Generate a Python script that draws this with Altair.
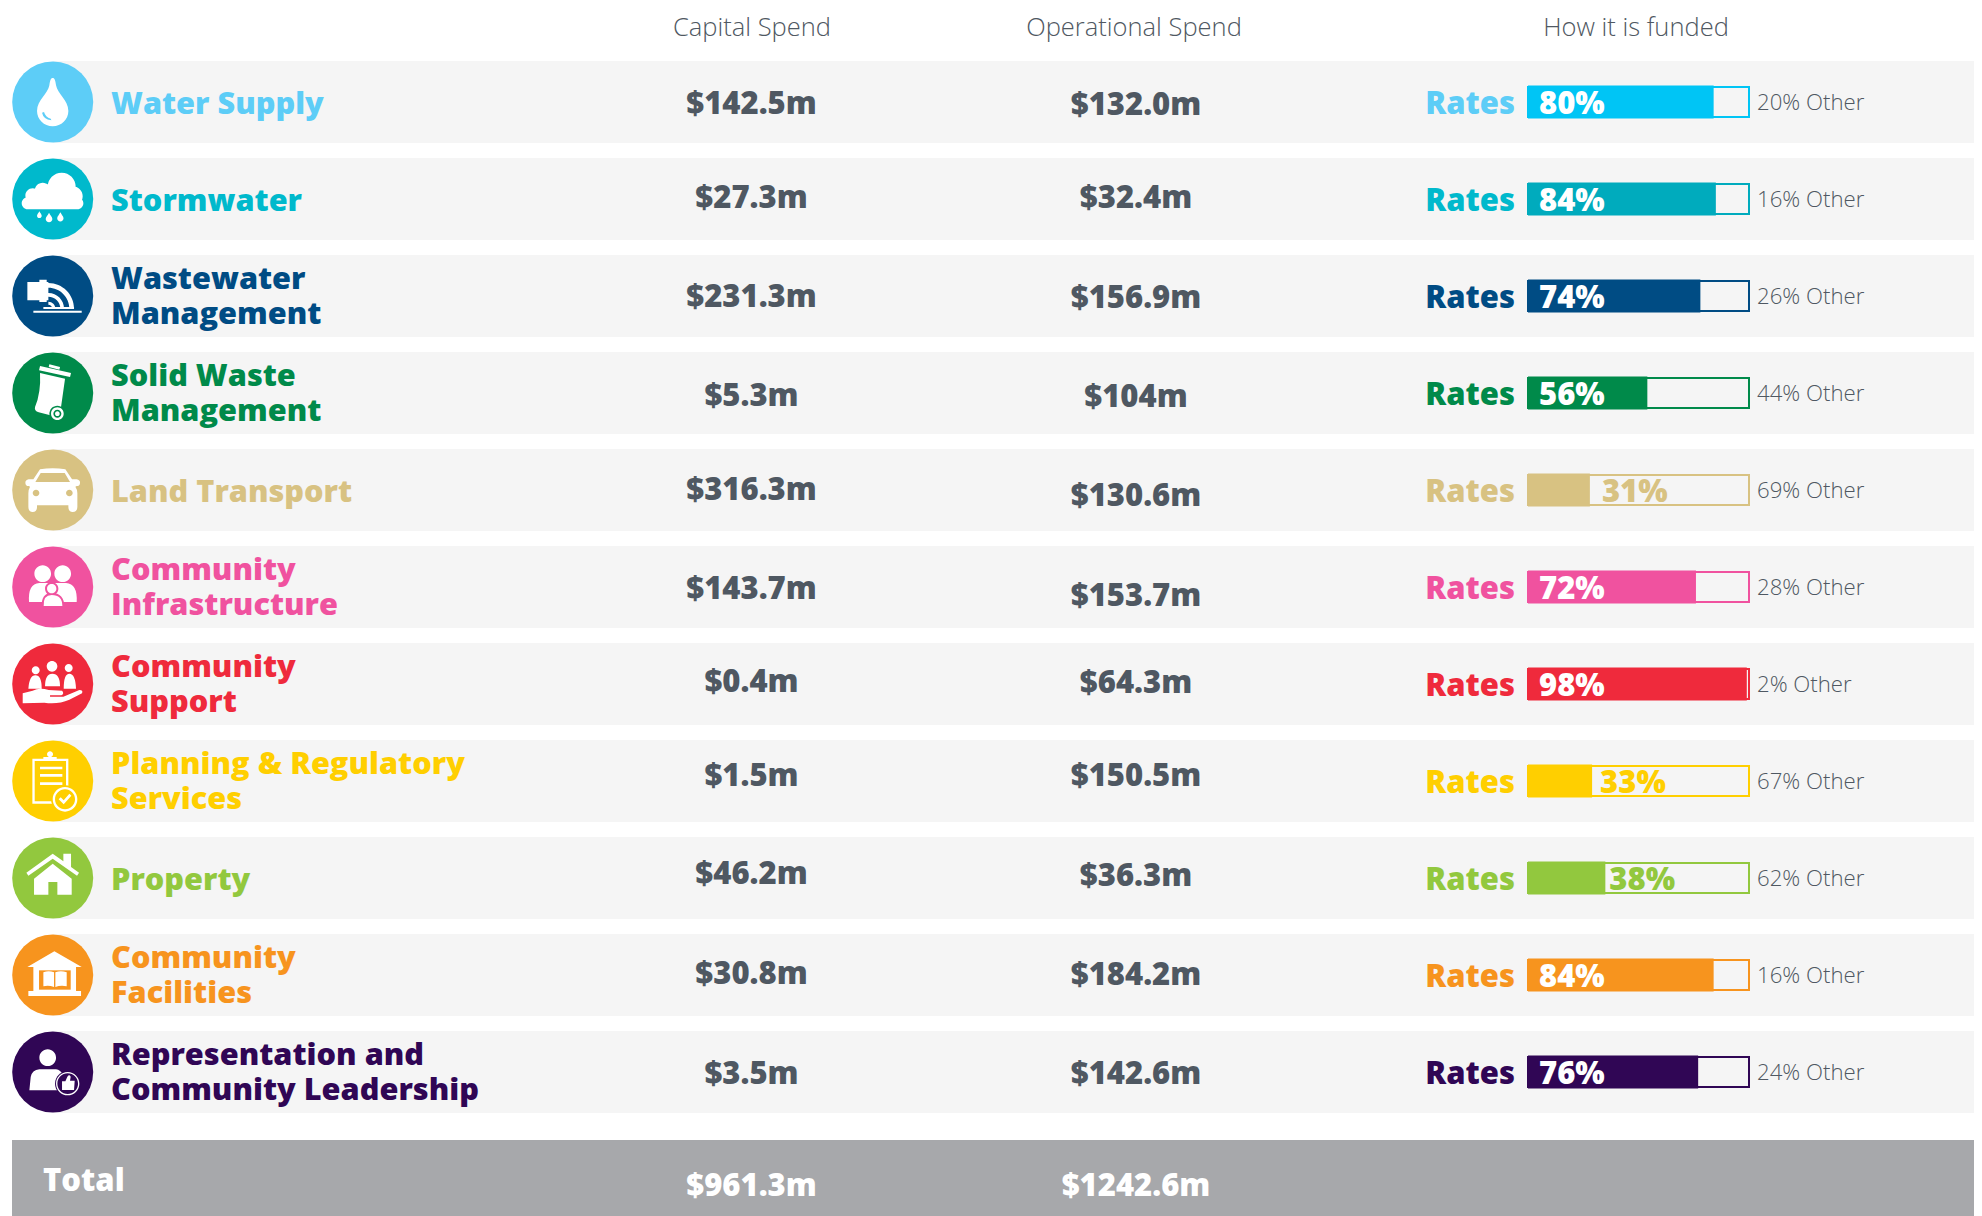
import altair as alt
import pandas as pd

# ---- values ----
names = ["Water Supply", "Stormwater", "Wastewater\nManagement", "Solid Waste\nManagement",
         "Land Transport", "Community\nInfrastructure", "Community\nSupport",
         "Planning & Regulatory\nServices", "Property", "Community\nFacilities",
         "Representation and\nCommunity Leadership"]
capital = ["$142.5m", "$27.3m", "$231.3m", "$5.3m", "$316.3m", "$143.7m", "$0.4m", "$1.5m", "$46.2m", "$30.8m", "$3.5m"]
operational = ["$132.0m", "$32.4m", "$156.9m", "$104m", "$130.6m", "$153.7m", "$64.3m", "$150.5m", "$36.3m", "$184.2m", "$142.6m"]
rates_pct = [80, 84, 74, 56, 31, 72, 98, 33, 38, 84, 76]
other_pct = [20, 16, 26, 44, 69, 28, 2, 67, 62, 16, 24]
bar_length = [84, 85, 78, 54, 28, 76, 99, 29, 35, 84, 77]   # as drawn in the picture, which differs from the labels
headers = ["Capital Spend", "Operational Spend", "How it is funded"]
total_label = "Total"
total_capital = "$961.3m"
total_operational = "$1242.6m"

# ---- styles ----
TEXT_COLORS = ["#5DCDF7", "#00B9CC", "#004C84", "#008A4A", "#D8C282", "#F0529F", "#EF2A3C", "#FFCF00", "#92C83E", "#F7941E", "#300655"]
BAR_COLORS = ["#00C5F5", "#00ABBD", "#004C84", "#008A4A", "#D8C282", "#F0529F", "#EF2A3C", "#FFCF00", "#92C83E", "#F7941E", "#300655"]
GREY = "#4F5862"
FONT = "Open Sans"
W, H = 1966, 1208
Y_SCALE = alt.Scale(domain=[0, 10], range=[94, 1064], nice=False, zero=False)
X_SCALE = alt.Scale(domain=[0, 100], range=[1520, 1741], nice=False, zero=False)
COLOR_SCALE = alt.Scale(domain=names, range=TEXT_COLORS)
BAR_SCALE = alt.Scale(domain=names, range=BAR_COLORS)
color_enc = alt.Color("name:N", scale=COLOR_SCALE, legend=None)
y_enc = alt.Y("row:Q", scale=Y_SCALE, axis=None)

df = pd.DataFrame({
    "row": range(len(names)), "name": names, "capital": capital, "operational": operational,
    "pct": rates_pct, "other": other_pct, "bar": bar_length, "start": 0, "full": 100,
    "y0": [i - 0.4227 for i in range(len(names))], "y1": [i + 0.4227 for i in range(len(names))],
})
df["pct_label"] = df["pct"].astype(str) + "%"
df["other_label"] = df["other"].astype(str) + "% Other"
df["rates"] = "Rates"


# ---- icon glyphs, in 3x-pixel units around the circle centre ----
def circ(cx, cy, r, rev=False):
    s = 0 if rev else 1
    return f"M{cx-r} {cy}A{r} {r} 0 1 {s} {cx+r} {cy}A{r} {r} 0 1 {s} {cx-r} {cy}Z"


def box(x0, y0, x1, y1, rev=False):
    if rev:
        return f"M{x0} {y0}L{x0} {y1}L{x1} {y1}L{x1} {y0}Z"
    return f"M{x0} {y0}L{x1} {y0}L{x1} {y1}L{x0} {y1}Z"


def ring(cx, cy, r1, r2):
    return f"M{cx} {cy-r2}A{r2} {r2} 0 0 1 {cx+r2} {cy}L{cx+r1} {cy}A{r1} {r1} 0 0 0 {cx} {cy-r1}Z"


def drop(cx, cy, r):
    return f"M{cx} {cy-1.9*r}C{cx+0.3*r} {cy-1.2*r} {cx+r} {cy-0.6*r} {cx+r} {cy}A{r} {r} 0 0 1 {cx-r} {cy}C{cx-r} {cy-0.6*r} {cx-0.3*r} {cy-1.2*r} {cx} {cy-1.9*r}Z"


ICONS = [
    # Water
    [("w", "M0 -72C6 -72 8 -64 10 -50C14 -25 47 -5 47 27A47 46 0 0 1 -47 27C-47 -5 -14 -25 -10 -50C-8 -64 -6 -72 0 -72Z"),
     ("c", "M-26 30Q-22 46 -6 50L-4 55Q-28 52 -32 32Z")],
    # Storm
    [("w", circ(27, -37, 42) + circ(-30, -25, 24) + circ(-60, -10, 22) + circ(60, -8, 30) + box(-50, -30, 50, 5) +
      "M-75 -5L74 -5A18 18 0 0 1 74 31L-75 31A18 18 0 0 1 -75 -5Z" + drop(-40, 50, 7) + drop(-11, 60, 10) + drop(23, 58, 9.5))],
    # Wastewater
    [("w", box(-76, -42, -13, 13) + box(-40, -49, -18, 18) + ring(-13, 38, 63, 77) + ring(-13, 38, 36, 47) + ring(-13, 38, 12, 21)
      + box(-28, 33, 64, 39) + box(-58, 44, 87, 50))],
    # Solid waste
    [("w", "M-38 -81L55 -60L52 -48L-41 -68Z" + "M-10 -86L22 -78L20 -70L-12 -78Z" +
      "M-38 -60L37 -43L25 42Q10 70 -10 66L-42 58Q-56 54 -53 42Q-35 0 -38 -60Z"),
     ("c", circ(14, 62, 24)), ("w", circ(14, 62, 19) + circ(14, 62, 12, True) + circ(14, 62, 7))],
    # Car
    [("w", "M-38 -62Q0 -68 38 -62L58 -32L72 -32Q82 -30 82 -22Q82 -12 72 -12L68 -10Q74 -2 74 10L74 50Q74 66 60 66Q47 66 47 50L47 46L-47 46L-47 50Q-47 66 -60 66Q-73 66 -73 50L-73 10Q-73 -2 -68 -10L-72 -12Q-82 -12 -82 -22Q-82 -30 -72 -32L-58 -32Z"),
     ("c", "M-36 -51L36 -51L52 -24L-52 -24Z" + circ(-50, 9, 10) + circ(50, 9, 10))],
    # Community infrastructure
    [("w", circ(-30, -40, 25) + circ(30, -40, 25) +
      "M-71 45Q-75 -10 -40 -12L40 -12Q75 -10 72 45Z"),
     ("c", circ(-3, 5, 20) + "M-33 60Q-35 18 -3 18Q35 18 35 60Z"),
     ("w", circ(-3, 5, 14) + "M-27 57Q-29 24 -3 24Q29 24 29 57Z")],
    # Community support
    [("w", circ(-51, -41, 12) + circ(-2, -53, 16) + circ(48, -48, 12) +
      "M-73 14Q-70 -26 -52 -26Q-33 -26 -33 14Z" + "M-23 7Q-23 -31 -1 -31Q22 -31 22 7Z" + "M33 14Q33 -31 50 -31Q68 -31 70 14Z" +
      "M-90 28L-90 58L-25 56Q15 62 50 47L88 28Q92 18 80 18L32 38L-8 38L-8 34L26 34Q36 28 28 20L-12 18Q-40 10 -60 20Z")],
    # Planning
    [("w", box(-61, -67, 47, 68) + box(-54, -60, 40, 61, True) + circ(-8, -80, 9) + box(-28, -72, 12, -65)
      + box(-38, -43, 29, -35) + box(-38, -21, 29, -13) + box(-38, 4, 29, 12)),
     ("c", circ(37, 55, 42)),
     ("w", circ(37, 55, 37) + circ(37, 55, 30, True) + "M18 55L24 49L33 58L50 38L56 44L33 70Z")],
    # Property
    [("w", "M0 -73L32 -50L32 -73L55 -73L55 -33L79 -16L73 -7L0 -58L-73 -7L-79 -16Z" +
      "M0 -43L57 2L57 50L14 50L14 12L-13 12L-13 50L-56 50L-56 2Z")],
    # Facilities
    [("w", "M5 -71L87 -24L-76 -24Z" + box(-73, 48, 85, 63) + box(-58, -24, 70, 48)),
     ("c", box(-41, -14, 54, 44)),
     ("w", "M-28 -8Q-12 -14 4 -8L4 36Q-12 30 -28 34Z" + "M8 -8Q24 -14 42 -8L42 34Q24 30 8 36Z")],
    # Representation
    [("w", circ(-15, -43, 25) + "M-70 55L-66 15Q-62 -6 -40 -8L10 -8Q24 -6 30 8L30 55Z"),
     ("c", circ(45, 35, 38)),
     ("w", circ(45, 35, 35) + circ(45, 35, 31, True) + "M28 28L38 28L44 14Q50 6 54 14L52 26L66 26L64 54L28 54Z")],
]

layers = []

# row bands
layers.append(alt.Chart(df).mark_rect(color="#F5F5F5").encode(
    x=alt.value(45), x2=alt.value(W), y=alt.Y("y0:Q", scale=Y_SCALE, axis=None), y2="y1:Q"))

# total band
total_df = pd.DataFrame({"label": [total_label], "capital": [total_capital], "operational": [total_operational]})
layers.append(alt.Chart(total_df).mark_rect(color="#A7A8AB").encode(
    x=alt.value(4), x2=alt.value(W), y=alt.value(1132), y2=alt.value(H)))

# icon discs
layers.append(alt.Chart(df).mark_point(shape="circle", filled=True, opacity=1, size=6561, strokeWidth=0).encode(
    x=alt.value(44.7), y=y_enc, color=color_enc))

# icon glyphs
for i, parts in enumerate(ICONS):
    one = df.iloc[[i]]
    for kind, path in parts:
        mark = alt.Chart(one).mark_point(shape=path, filled=True, opacity=1, size=0.4444, strokeWidth=0,
                                         **({"color": "white"} if kind == "w" else {}))
        enc = {"x": alt.value(44.7), "y": y_enc}
        if kind == "c":
            enc["color"] = color_enc
        layers.append(mark.encode(**enc))

# category names: single-line names sit on the row centre, two-line names straddle it
for test, dy in [("indexof(datum.name, '\\n') < 0", 3), ("indexof(datum.name, '\\n') >= 0", -16)]:
    layers.append(alt.Chart(df).transform_filter(test).mark_text(
        font=FONT, fontWeight=800, fontSize=30.7, align="left", baseline="middle",
        lineBreak="\n", lineHeight=35, dy=dy).encode(
        x=alt.value(103), y=y_enc, text="name:N", color=color_enc))


def value_layers(field, xpos, nudges):
    out = []
    for dy in sorted(set(nudges)):
        rows = [i for i, n in enumerate(nudges) if n == dy]
        out.append(alt.Chart(df).transform_filter(alt.FieldOneOfPredicate(field="row", oneOf=rows)).mark_text(
            font=FONT, fontWeight=800, fontSize=31, align="center", baseline="middle", color=GREY, dy=dy).encode(
            x=alt.value(xpos), y=y_enc, text=f"{field}:N"))
    return out


layers += value_layers("capital", 743.5, [2.5, -0.5, 1.5, 3.5, 0.5, 2.5, -1.5, -4.5, -3.5, -0.5, 2.5])
layers += value_layers("operational", 1128, [4, 0, 3, 5, 7, 10, 0, -4, -1, 1, 3])

# rates word
layers.append(alt.Chart(df).mark_text(font=FONT, fontWeight=800, fontSize=31, align="right", baseline="middle", dy=3).encode(
    x=alt.value(1507), y=y_enc, text="rates:N", color=color_enc))

# funding bars
x_enc = alt.X("start:Q", scale=X_SCALE, axis=None)
layers.append(alt.Chart(df).transform_calculate(a="datum.row-0.155", b="datum.row+0.155").mark_rect(fillOpacity=0, strokeWidth=2).encode(
    x=x_enc, x2="full:Q", y=alt.Y("a:Q", scale=Y_SCALE, axis=None), y2="b:Q",
    stroke=alt.Stroke("name:N", scale=BAR_SCALE, legend=None)))
layers.append(alt.Chart(df).transform_calculate(a="datum.row-0.17", b="datum.row+0.17").mark_rect().encode(
    x=x_enc, x2="bar:Q", y=alt.Y("a:Q", scale=Y_SCALE, axis=None), y2="b:Q",
    fill=alt.Fill("name:N", scale=BAR_SCALE, legend=None)))

# share labels: white inside long bars, coloured past short ones
layers.append(alt.Chart(df).transform_filter(alt.datum.pct >= 50).mark_text(
    font=FONT, fontWeight=800, fontSize=31, align="left", baseline="middle", color="white", dy=3).encode(
    x=alt.value(1531), y=y_enc, text="pct_label:N"))
for pct_value, dx in [(31, 12), (33, 8), (38, 4)]:
    layers.append(alt.Chart(df).transform_filter(alt.datum.pct == pct_value).mark_text(
        font=FONT, fontWeight=800, fontSize=31, align="left", baseline="middle", dx=dx, dy=3).encode(
        x=alt.X("bar:Q", scale=X_SCALE, axis=None), y=y_enc, text="pct_label:N", color=color_enc))

# other share
layers.append(alt.Chart(df).mark_text(font=FONT, fontWeight=300, fontSize=22.2, align="left", baseline="middle", color=GREY, dy=1).encode(
    x=alt.value(1749), y=y_enc, text="other_label:N"))

# headers
for h, xp in zip(headers, [744, 1126, 1628]):
    layers.append(alt.Chart(pd.DataFrame({"h": [h]})).mark_text(
        font=FONT, fontWeight=300, fontSize=25.5, align="center", baseline="middle", color=GREY).encode(
        x=alt.value(xp), y=alt.value(20), text="h:N"))

# total row text
layers.append(alt.Chart(total_df).mark_text(font=FONT, fontWeight=800, fontSize=31, align="left", baseline="middle", color="white").encode(
    x=alt.value(35), y=alt.value(1174), text="label:N"))
layers.append(alt.Chart(total_df).mark_text(font=FONT, fontWeight=800, fontSize=31, align="center", baseline="middle", color="white").encode(
    x=alt.value(743.5), y=alt.value(1178.5), text="capital:N"))
layers.append(alt.Chart(total_df).mark_text(font=FONT, fontWeight=800, fontSize=31, align="center", baseline="middle", color="white").encode(
    x=alt.value(1128), y=alt.value(1179), text="operational:N"))

chart = alt.layer(*layers).resolve_scale(x="shared", y="shared").properties(
    width=W, height=H, padding=0, autosize=alt.AutoSizeParams(type="none"), background="white"
).configure_view(stroke=None)

chart.save("out.html", embed_options={"renderer": "svg", "actions": False})
